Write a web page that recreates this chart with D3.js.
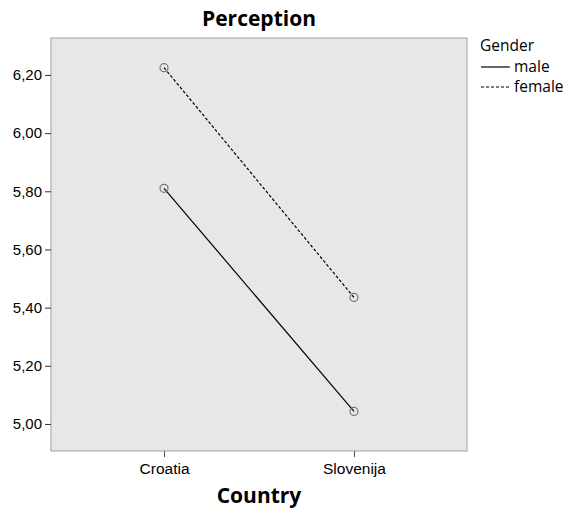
<!DOCTYPE html>
<html><head><meta charset="utf-8">
<script src="https://cdn.jsdelivr.net/npm/d3@7"></script>
<style>body{margin:0;background:#fff}svg{display:block;font-family:"Open Sans",sans-serif}</style>
</head><body><svg id="c" width="569" height="509"></svg>
<script>
const categories = ["Croatia", "Slovenija"];
const seriesNames = ["male", "female"];
const maleValues = [5.81, 5.043];
const femaleValues = [6.225, 5.435];
const yTicks = [5.0, 5.2, 5.4, 5.6, 5.8, 6.0, 6.2];

const svg = d3.select("#c");
const m = {l: 51, t: 38, r: 467, b: 451};
const x = d3.scalePoint().domain(categories).range([m.l, m.r]).padding(0.595);
const y = d3.scaleLinear().domain([4.907, 6.327]).range([m.b, m.t]);
const fmt = d => d3.format(".2f")(d).replace(".", ",");

svg.append("rect").attr("x", m.l).attr("y", m.t).attr("width", m.r - m.l).attr("height", m.b - m.t)
  .attr("fill", "#e6e7e9").attr("stroke", "#a0a0a0").attr("stroke-width", 1);

const ya = svg.append("g").attr("transform", `translate(${m.l},0)`)
  .call(d3.axisLeft(y).tickValues(yTicks).tickFormat(fmt).tickSize(6).tickPadding(3));
ya.select(".domain").remove();
ya.selectAll("line").attr("stroke", "#333");
ya.selectAll("text").attr("font-size", 15).attr("fill", "#000");

const xa = svg.append("g").attr("transform", `translate(0,${m.b})`)
  .call(d3.axisBottom(x).tickSize(6).tickPadding(6));
xa.select(".domain").remove();
xa.selectAll("line").attr("stroke", "#555");
xa.selectAll("text").attr("font-size", 15.5).attr("fill", "#000");

const series = [
  {name: seriesNames[0], values: maleValues, dash: null},
  {name: seriesNames[1], values: femaleValues, dash: "3,2"}
];
const line = d3.line().x((d, i) => x(categories[i])).y(d => y(d));
series.forEach(s => {
  svg.append("path").attr("d", line(s.values)).attr("fill", "none").attr("stroke", "#000")
    .attr("stroke-width", 1.2).attr("stroke-dasharray", s.dash);
  svg.selectAll(null).data(s.values).enter().append("circle")
    .attr("cx", (d, i) => x(categories[i])).attr("cy", d => y(d)).attr("r", 4)
    .attr("fill", "none").attr("stroke", "#777").attr("stroke-width", 1.2);
});

svg.append("text").attr("x", (m.l + m.r) / 2).attr("y", 26).attr("text-anchor", "middle")
  .attr("font-size", 21).attr("font-weight", "bold").text("Perception");
svg.append("text").attr("x", (m.l + m.r) / 2).attr("y", 503).attr("text-anchor", "middle")
  .attr("font-size", 21).attr("font-weight", "bold").text("Country");

const lg = svg.append("g").attr("transform", "translate(480,0)");
lg.append("text").attr("x", 0).attr("y", 51).attr("font-size", 15.5).text("Gender");
series.forEach((s, i) => {
  const yy = 67 + i * 20;
  lg.append("line").attr("x1", 1).attr("x2", 30).attr("y1", yy).attr("y2", yy)
    .attr("stroke", "#000").attr("stroke-width", 1.2).attr("stroke-dasharray", s.dash);
  lg.append("text").attr("x", 34).attr("y", yy + 5).attr("font-size", 15.5).text(s.name);
});
</script></body></html>
